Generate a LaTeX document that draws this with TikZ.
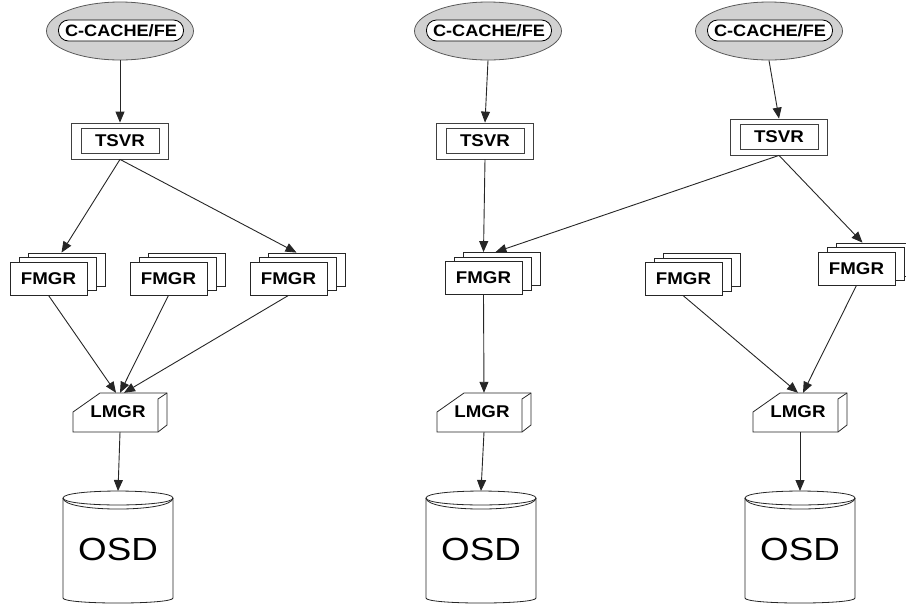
\documentclass[tikz,border=0pt]{standalone}
\usepackage{fontspec}
\setmainfont{Liberation Sans}
\newfontfamily\lblfont[FakeStretch=1.1]{Liberation Sans Bold}
\newfontfamily\osdfont[FakeStretch=1.15]{Liberation Sans}
\usetikzlibrary{shapes.geometric,arrows.meta,calc}

\begin{document}
\begin{tikzpicture}[x=1pt,y=-1pt,
  lbl/.style={font=\lblfont\fontsize{17}{19}\selectfont},
  conn/.style={draw=black!85, line width=0.9pt, -{Triangle[length=11pt,width=9pt]}},
  boxline/.style={draw=black!85, line width=0.8pt},
  feell/.style={ellipse, draw=black!65, fill=black!18, line width=0.8pt,
    minimum width=147pt, minimum height=58pt, inner sep=0pt},
  feinner/.style={font=\lblfont\fontsize{16.5}{19}\selectfont, draw=black,
    fill=white, rounded corners=10pt,
    minimum width=125pt, minimum height=21pt, inner sep=0pt, line width=0.8pt},
  tsvrout/.style={draw=black!75, fill=white, minimum width=97pt,
    minimum height=36pt, inner sep=0pt, line width=0.8pt},
  tsvrin/.style={lbl, draw=black!75, minimum width=78pt,
    minimum height=25pt, inner sep=0pt, line width=0.8pt},
  fm/.style={lbl, boxline, fill=white, minimum width=77pt,
    minimum height=33pt, inner sep=0pt},
  osd/.style={font=\osdfont\fontsize{32}{36}\selectfont, inner sep=0pt}
]
\useasboundingbox (0,0) rectangle (906,606);
\clip (0,0) rectangle (906,606);

% front-end caches
\foreach \n/\x in {e1/120, e2/488, e3/769} {
  \node[feell] (\n) at (\x,31) {};
  \node[feinner] (\n-in) at (\x+1,30.5) {C-CACHE/FE};
}

% TSVR servers
\foreach \n/\x/\y in {t1/120/141, t2/485/141, t3/779/137} {
  \node[tsvrout] (\n) at (\x,\y) {};
  \node[tsvrin] (\n-in) at (\x,\y) {TSVR};
}

% FMGR stacks (back, middle, front)
\foreach \n/\x/\y in {f1/48.5/278.5, f2/168.5/278.5, f3/288.5/278.5,
                      f4/483.5/278, f5/683.5/279, f6/856.5/268.5} {
  \node[fm] (\n-b) at (\x+18,\y-9) {};
  \node[fm] (\n-m) at (\x+9,\y-4.5) {};
  \node[fm] (\n) at (\x,\y) {FMGR};
}

% LMGR blocks
\foreach \n/\x in {l1/73, l2/437, l3/753} {
  \begin{scope}[shift={(\x,393)}]
    \draw[boxline, fill=white] (0,39) -- (0,19) -- (27,0) -- (94,0)
      -- (94,32) -- (85,39) -- cycle;
    \draw[boxline] (85,39) -- (85,6) -- (94,0);
    \node[minimum width=94pt, minimum height=39pt, inner sep=0pt] (\n) at (47,19.5) {};
    \node[lbl] at (45,18.5) {LMGR};
  \end{scope}
}

% OSD storage cylinders
\foreach \n/\c in {o1/118, o2/481, o3/800} {
  \begin{scope}[shift={(\c,0)}]
    \draw[boxline, fill=white] (-55,498) -- (-55,598)
      .. controls (-55,604.7) and (55,604.7) .. (55,598) -- (55,498)
      .. controls (55,488.7) and (-55,488.7) .. (-55,498) -- cycle;
    \draw[boxline] (-55,498) .. controls (-55,507.3) and (55,507.3) .. (55,498);
    \draw[boxline] (-55,498) .. controls (-55,512.7) and (55,512.7) .. (55,498);
    \coordinate (\n-top) at (0,491);
    \node[osd] (\n) at (0,549) {OSD};
  \end{scope}
}

% connectors
\draw[conn] (e1.south) -- (t1.north);
\draw[conn] (e2.south) -- (t2.north);
\draw[conn] (e3.south) -- (t3.north);

\draw[conn] (t1.south) -- ($(f1-b.north)+(-5,0)$);
\draw[conn] (t1.south) -- ($(f3-b.north)+(-10,0)$);
\draw[conn] (t2.south) -- ($(f4-b.north)+(-18,0)$);
\draw[conn] (t3.south) -- ($(f4-b.north)+(-6,0)$);
\draw[conn] (t3.south) -- ($(f6-b.north)+(-12,0)$);

\draw[conn] (f1.south) -- ($(l1.north)+(-4,0)$);
\draw[conn] (f2.south) -- (l1.north);
\draw[conn] (f3.south) -- ($(l1.north)+(4,0)$);
\draw[conn] (f4.south) -- (l2.north);
\draw[conn] (f5.south) -- ($(l3.north)+(-2,0)$);
\draw[conn] (f6.south) -- ($(l3.north)+(3,0)$);

\draw[conn] (l1.south) -- (o1-top);
\draw[conn] (l2.south) -- (o2-top);
\draw[conn] (l3.south) -- (o3-top);
\end{tikzpicture}
\end{document}
